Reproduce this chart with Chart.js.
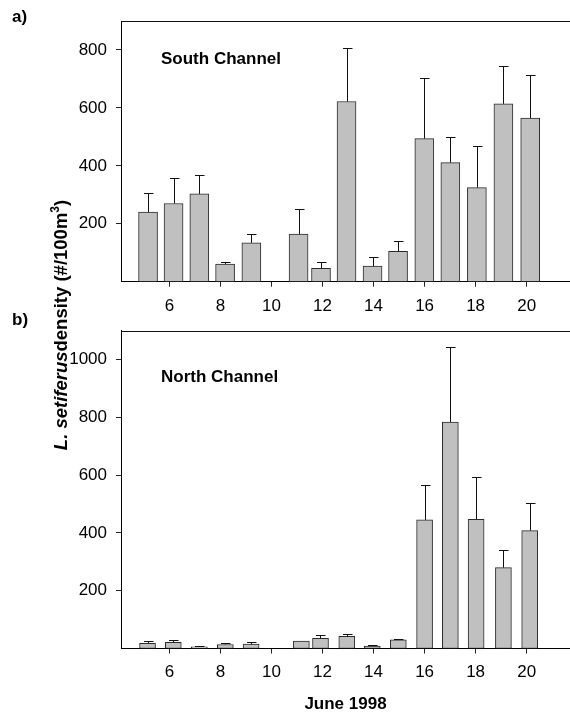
<!DOCTYPE html>
<html>
<head>
<meta charset="utf-8">
<script src="https://cdn.jsdelivr.net/npm/chart.js@4.4.1/dist/chart.umd.min.js"></script>
<style>
html,body{margin:0;padding:0;background:#fff;}
#wrap{position:relative;width:570px;height:715px;overflow:hidden;}
#wrap canvas{position:absolute;left:0;top:0;}
</style>
</head>
<body>
<div id="wrap">
  <canvas id="southChart" width="570" height="715"></canvas>
  <canvas id="northChart" width="570" height="715"></canvas>
</div>
<script>
// sampling day (June 1998), mean density and standard error per station
const southDay  = [5.16, 6.16, 7.17, 8.18, 9.21, 11.06, 11.94, 12.94, 13.96, 14.96, 15.99, 17.01, 18.05, 19.09, 20.14];
const southMean = [240, 270, 303, 61, 134, 164, 46, 622, 54, 105, 494, 411, 325, 614, 565];
const southSE   = [66, 88, 66, 8, 32, 86, 23, 186, 32, 34, 210, 90, 144, 130, 149];

const northDay  = [5.14, 6.15, 7.17, 8.19, 9.20, 11.17, 11.92, 12.95, 13.95, 14.97, 16.00, 17.01, 18.02, 19.09, 20.12];
const northMean = [18, 21, 6, 14, 15, 26, 35, 42, 8, 30, 445, 784, 447, 280, 408];
const northSE   = [7, 7, 2, 6, 7, 0, 10, 7, 5, 4, 122, 260, 147, 62, 94];

const dayTicks   = [6, 8, 10, 12, 14, 16, 18, 20];
const southTicks = [200, 400, 600, 800];
const northTicks = [200, 400, 600, 800, 1000];

Chart.defaults.font.family = "'Liberation Sans', Arial, sans-serif";
Chart.defaults.color = "#000";

/* ===== error bars + top frame line ===== */
const errorBars = {
    id: "errorBars",
    afterDatasetsDraw(chart, args, opts){
        const ctx = chart.ctx;
        const yScale = chart.scales.y;
        const meta = chart.getDatasetMeta(0);
        const data = chart.data.datasets[0].data;
        ctx.save();
        ctx.strokeStyle = "#111";
        ctx.lineWidth = 1;
        meta.data.forEach((bar, i) => {
            const se = opts.se[i];
            if(!se) return;
            const top = Math.round(yScale.getPixelForValue(data[i].y + se)) + 0.5;
            const x = Math.round(bar.x) + 0.5;
            ctx.beginPath();
            ctx.moveTo(x, bar.y);
            ctx.lineTo(x, top);
            ctx.moveTo(x - 4.5, top);
            ctx.lineTo(x + 5, top);
            ctx.stroke();
        });
        // upper frame line, the plot is open on the right
        const a = chart.chartArea;
        ctx.beginPath();
        ctx.moveTo(a.left, Math.round(a.top) + 0.5);
        ctx.lineTo(a.right, Math.round(a.top) + 0.5);
        ctx.stroke();
        ctx.restore();
    }
};

/* ===== free text: panel letters, station names, shared y title ===== */
const freeText = {
    id: "freeText",
    afterDraw(chart, args, opts){
        const ctx = chart.ctx;
        ctx.save();
        ctx.fillStyle = "#000";
        ctx.textBaseline = "alphabetic";
        (opts.items || []).forEach(t => {
            ctx.font = "bold 17px 'Liberation Sans', Arial, sans-serif";
            ctx.fillText(t.text, t.x, t.y);
        });
        if(opts.yTitle){
            const parts = [
                {t:"L. setiferus", f:"italic bold 18.5px 'Liberation Sans', Arial, sans-serif", dy:0},
                {t:"density (#/100m", f:"bold 18.5px 'Liberation Sans', Arial, sans-serif", dy:0},
                {t:"3", f:"bold 12px 'Liberation Sans', Arial, sans-serif", dy:-8},
                {t:")", f:"bold 18.5px 'Liberation Sans', Arial, sans-serif", dy:0}
            ];
            let total = 0;
            parts.forEach(p => { ctx.font = p.f; p.w = ctx.measureText(p.t).width; total += p.w; });
            ctx.translate(opts.yTitle.x, opts.yTitle.y);
            ctx.rotate(-Math.PI/2);
            let x = -total/2;
            parts.forEach(p => {
                ctx.font = p.f;
                ctx.fillText(p.t, x, p.dy);
                x += p.w;
            });
        }
        ctx.restore();
    }
};

function panel(id, days, means, se, yMax, yTicks, barW, pad, xHeight, xPad, xTitle, items, yTitle){
    return new Chart(document.getElementById(id), {
        type: "bar",
        data: {
            datasets: [{
                data: days.map((d, i) => ({x: d, y: means[i]})),
                backgroundColor: "#c0c0c0",
                borderColor: "#2b2b2b",
                borderWidth: 1,
                borderSkipped: false,
                barThickness: barW
            }]
        },
        options: {
            responsive: false,
            animation: false,
            events: [],
            layout: { padding: pad },
            plugins: {
                legend: { display: false },
                tooltip: { enabled: false },
                errorBars: { se: se },
                freeText: { items: items, yTitle: yTitle }
            },
            scales: {
                x: {
                    type: "linear",
                    min: 4.1,
                    max: 21.7,
                    offset: false,
                    afterBuildTicks: s => { s.ticks = dayTicks.map(v => ({value: v})); },
                    afterFit: s => { s.height = xHeight; },
                    grid: { display: true, drawOnChartArea: false, offset: false, tickLength: 5, color: "#222" },
                    border: { display: true, color: "#000", width: 1 },
                    ticks: { font: { size: 17 }, padding: xPad, maxRotation: 0, color: "#000", callback: v => String(v) },
                    title: xTitle ? { display: true, text: xTitle, font: { size: 17, weight: "bold" }, padding: { top: 0, bottom: 0 } } : { display: false }
                },
                y: {
                    min: 0,
                    max: yMax,
                    afterBuildTicks: s => { s.ticks = yTicks.map(v => ({value: v})); },
                    afterFit: s => { s.width = 121; },
                    grid: { display: true, drawOnChartArea: false, tickLength: 5, color: "#222" },
                    border: { display: true, color: "#000", width: 1 },
                    ticks: { font: { size: 17 }, padding: 9, color: "#000", callback: v => String(v) }
                }
            }
        },
        plugins: [errorBars, freeText]
    });
}

panel("southChart", southDay, southMean, southSE, 900, southTicks, 19,
    { left: 0, right: 0, top: 21, bottom: 715 - 281.7 - 40 }, 40, 9, null,
    [ {text: "a)", x: 12, y: 22}, {text: "South Channel", x: 161, y: 64} ], null);

panel("northChart", northDay, northMean, northSE, 1100, northTicks, 16,
    { left: 0, right: 0, top: 330.7, bottom: 0 }, 66.5, 9, "June 1998",
    [ {text: "b)", x: 12, y: 325}, {text: "North Channel", x: 161, y: 381.7} ],
    { x: 67, y: 325 });
</script>
</body>
</html>
